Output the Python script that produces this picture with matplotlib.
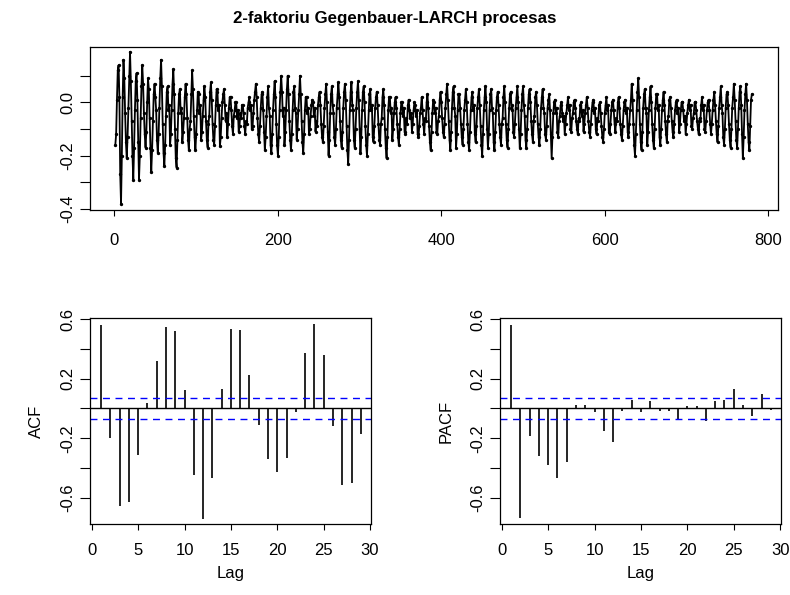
import matplotlib
matplotlib.use("Agg")
import matplotlib.pyplot as plt
import numpy as np

plt.rcParams['font.family'] = ['Liberation Sans', 'DejaVu Sans']

title = "2-faktoriu Gegenbauer-LARCH procesas"

# series values, read cycle by cycle off the picture (780 points)
series = [
    -0.16, -0.12, 0.01, 0.12, 0.14, 0.02, -0.27, -0.38,
    -0.20, 0.02, 0.16, 0.09, -0.04, -0.15, -0.21, -0.13,
    -0.02, 0.10, 0.19, 0.08, -0.07, -0.20, -0.29, -0.17,
    -0.03, 0.08, 0.11, 0.01, -0.15, -0.29, -0.20,
    -0.06, 0.06, 0.14, 0.07, -0.04, -0.12, -0.17, -0.11,
    0.00, 0.09, 0.05, -0.06, -0.17, -0.26, -0.18, -0.07,
    0.03, 0.07, 0.02, -0.03, -0.14, -0.19, -0.12, -0.02,
    0.09, 0.16, 0.06, -0.08, -0.19, -0.24, -0.16, -0.05,
    0.04, 0.06, -0.03, -0.01, -0.16, -0.12, -0.03,
    0.07, 0.125, 0.03, -0.10, -0.21, -0.245, -0.14, -0.04,
    0.03, 0.05, -0.04, -0.02, -0.15, -0.11, -0.06, 0.02,
    0.07, 0.03, -0.06, -0.14, -0.18, -0.10, -0.07, 0.03,
    0.12, 0.05, -0.05, -0.13, -0.18, -0.12, -0.03, 0.04,
    0.03, -0.04, -0.01, -0.14, -0.11, -0.05, 0.01,
    0.06, 0.02, -0.07, -0.14, -0.17, -0.08, -0.05, 0.04,
    0.075, 0.01, -0.08, -0.14, -0.16, -0.09, -0.01, 0.05,
    0.04, -0.03, -0.01, -0.165, -0.13, -0.06, 0.00, 0.03,
    0.05, -0.01, -0.07, -0.04, -0.13, -0.08, -0.02, 0.02,
    0.02, -0.03, -0.09, -0.12, -0.05, -0.03, 0.00,
    0.00, -0.06, -0.03, -0.11, -0.09, -0.04, -0.06, -0.01,
    -0.01, -0.04, -0.09, -0.12, -0.07, -0.08, -0.02, 0.00,
    0.02, -0.03, -0.01, -0.10, -0.09, -0.04, 0.01, 0.04,
    0.07, 0.02, -0.06, -0.12, -0.15, -0.09, -0.02, 0.03,
    0.04, -0.03, -0.11, -0.18, -0.13, -0.05, 0.02,
    0.06, -0.02, -0.05, -0.16, -0.19, -0.12, -0.03, 0.03,
    0.08, 0.02, -0.08, -0.16, -0.20, -0.13, -0.03, 0.04,
    0.10, 0.04, -0.05, -0.02, -0.16, -0.11, -0.03, 0.05,
    0.10, 0.03, -0.07, -0.14, -0.18, -0.12, -0.03, 0.04,
    0.06, -0.02, -0.04, -0.14, -0.10, -0.03, 0.03,
    0.10, 0.03, -0.07, -0.15, -0.19, -0.12, -0.03, 0.02,
    0.02, -0.04, -0.02, -0.12, -0.10, -0.05, -0.01, 0.01,
    0.00, -0.05, -0.02, -0.11, -0.07, -0.09, -0.01, 0.02,
    0.04, -0.01, -0.08, -0.13, -0.15, -0.09, -0.02, 0.03,
    0.07, 0.00, -0.11, -0.20, -0.14, -0.04, 0.03,
    0.06, -0.01, -0.04, -0.13, -0.16, -0.10, -0.02, 0.03,
    0.075, 0.02, -0.07, -0.14, -0.17, -0.11, -0.02, 0.04,
    0.07, 0.01, -0.09, -0.18, -0.23, -0.14, -0.03, 0.04,
    0.075, -0.01, -0.03, -0.14, -0.17, -0.10, -0.02, 0.04,
    0.08, 0.01, -0.10, -0.19, -0.13, -0.03, 0.04,
    0.06, 0.00, -0.09, -0.16, -0.20, -0.12, -0.03, 0.03,
    0.05, -0.03, -0.01, -0.13, -0.15, -0.09, -0.02, 0.02,
    0.04, -0.01, -0.08, -0.14, -0.16, -0.08, -0.06, 0.02,
    0.05, -0.01, -0.10, -0.17, -0.21, -0.13, -0.03, 0.02,
    0.02, -0.04, -0.02, -0.14, -0.10, -0.04, 0.00,
    0.02, -0.02, -0.08, -0.13, -0.16, -0.10, -0.04, 0.00,
    0.00, -0.05, -0.02, -0.11, -0.12, -0.06, -0.08, -0.01,
    0.01, -0.03, -0.06, -0.04, -0.11, -0.08, -0.03, 0.00,
    -0.01, -0.05, -0.03, -0.12, -0.13, -0.09, -0.04, -0.02,
    0.02, -0.03, -0.08, -0.12, -0.06, -0.07, 0.00,
    0.03, -0.02, -0.09, -0.15, -0.18, -0.11, -0.04, 0.01,
    0.00, -0.04, -0.02, -0.11, -0.12, -0.07, -0.05, 0.01,
    0.04, 0.00, -0.06, -0.11, -0.13, -0.08, -0.02, 0.03,
    0.07, 0.01, -0.07, -0.14, -0.18, -0.11, -0.02, 0.04,
    0.06, -0.02, -0.05, -0.17, -0.12, -0.03, 0.03,
    0.03, -0.02, -0.08, -0.13, -0.16, -0.10, -0.03, 0.01,
    0.05, 0.00, -0.08, -0.15, -0.18, -0.11, -0.03, 0.02,
    0.04, -0.03, -0.01, -0.12, -0.15, -0.09, -0.02, 0.02,
    0.05, -0.01, -0.09, -0.16, -0.20, -0.12, -0.03, 0.02,
    0.06, 0.00, -0.10, -0.17, -0.12, -0.03, 0.03,
    0.05, -0.02, -0.04, -0.15, -0.18, -0.11, -0.03, 0.02,
    0.04, -0.01, -0.08, -0.13, -0.16, -0.08, -0.06, 0.02,
    0.06, 0.00, -0.08, -0.14, -0.17, -0.10, -0.02, 0.03,
    0.04, -0.03, -0.01, -0.11, -0.13, -0.08, -0.02, 0.02,
    0.06, 0.00, -0.10, -0.17, -0.12, -0.03, 0.03,
    0.06, -0.01, -0.05, -0.14, -0.17, -0.10, -0.02, 0.03,
    0.05, 0.00, -0.07, -0.12, -0.15, -0.07, -0.05, 0.02,
    0.04, -0.01, -0.08, -0.13, -0.16, -0.10, -0.02, 0.02,
    0.05, -0.02, -0.04, -0.12, -0.14, -0.09, -0.02, 0.01,
    0.03, -0.03, -0.12, -0.21, -0.13, -0.04, 0.00,
    0.01, -0.04, -0.02, -0.11, -0.13, -0.07, -0.05, -0.01,
    0.00, -0.04, -0.07, -0.05, -0.12, -0.08, -0.04, -0.01,
    0.02, -0.03, -0.01, -0.10, -0.11, -0.06, -0.04, 0.00,
    0.01, -0.02, -0.07, -0.10, -0.12, -0.06, -0.07, -0.01,
    0.00, -0.05, -0.03, -0.11, -0.08, -0.04, -0.01,
    0.02, -0.02, -0.07, -0.11, -0.13, -0.08, -0.03, 0.00,
    0.01, -0.04, -0.02, -0.10, -0.12, -0.06, -0.07, -0.01,
    0.00, -0.04, -0.09, -0.13, -0.15, -0.10, -0.04, -0.01,
    0.02, -0.03, -0.01, -0.11, -0.12, -0.08, -0.03, 0.00,
    0.01, -0.03, -0.08, -0.11, -0.06, -0.07, 0.00,
    0.02, -0.02, -0.08, -0.12, -0.14, -0.09, -0.03, 0.00,
    0.01, -0.04, -0.02, -0.11, -0.13, -0.08, -0.03, 0.01,
    0.07, 0.01, -0.08, -0.16, -0.20, -0.12, -0.03, 0.04,
    0.09, 0.02, -0.08, -0.15, -0.18, -0.11, -0.02, 0.03,
    0.05, -0.02, -0.04, -0.16, -0.11, -0.03, 0.02,
    0.06, 0.00, -0.08, -0.14, -0.17, -0.10, -0.02, 0.03,
    0.03, -0.03, -0.01, -0.13, -0.16, -0.10, -0.03, 0.01,
    0.04, -0.01, -0.07, -0.12, -0.15, -0.07, -0.05, 0.01,
    0.02, -0.02, -0.07, -0.11, -0.13, -0.08, -0.03, 0.00,
    0.01, -0.04, -0.02, -0.11, -0.08, -0.03, 0.00,
    0.00, -0.03, -0.07, -0.05, -0.12, -0.08, -0.04, -0.01,
    0.01, -0.03, -0.01, -0.09, -0.10, -0.06, -0.04, 0.00,
    0.00, -0.03, -0.07, -0.10, -0.12, -0.06, -0.07, -0.01,
    0.02, -0.03, -0.01, -0.10, -0.11, -0.07, -0.03, 0.00,
    0.01, -0.03, -0.08, -0.12, -0.08, -0.03, 0.01,
    0.04, -0.01, -0.07, -0.12, -0.15, -0.09, -0.02, 0.02,
    0.06, -0.01, -0.04, -0.13, -0.16, -0.10, -0.02, 0.03,
    0.04, -0.01, -0.08, -0.14, -0.17, -0.10, -0.02, 0.02,
    0.07, 0.01, -0.07, -0.14, -0.17, -0.10, -0.02, 0.04,
    0.06, -0.01, -0.12, -0.21, -0.13, -0.03, 0.03,
    0.07, 0.01, -0.08, -0.15, -0.18, -0.09, 0.01, 0.03,
]

lags = list(range(1, 30))
acf_vals = [0.56, -0.20, -0.654, -0.625, -0.31, 0.036, 0.321, 0.548, 0.519, 0.121,
            -0.447, -0.739, -0.47, 0.133, 0.535, 0.526, 0.227, -0.108, -0.342, -0.429,
            -0.333, -0.025, 0.369, 0.564, 0.357, -0.121, -0.512, -0.501, -0.173]
pacf_vals = [0.563, -0.733, -0.188, -0.319, -0.378, -0.466, -0.357, 0.025, 0.025, -0.027,
             -0.149, -0.228, -0.018, 0.054, -0.025, 0.05, -0.018, -0.014, -0.07, 0.014,
             0.014, -0.086, 0.048, 0.054, 0.131, 0.025, -0.054, 0.095, -0.009]

n = len(series)
ci = 1.96 / np.sqrt(n)

fig = plt.figure(figsize=(7.9, 5.95), dpi=100)

def style(ax, ylen=7.5, xlen=4.5, xpad=9):
    for s in ax.spines.values():
        s.set_linewidth(0.9)
    ax.tick_params(axis='x', length=xlen, width=0.8, labelsize=12, pad=xpad)
    ax.tick_params(axis='y', length=ylen, width=0.8, labelsize=12, pad=3)
    for lab in ax.get_yticklabels():
        lab.set_rotation(90)
        lab.set_va('center')

# time series panel
ax0 = fig.add_axes([0.1139, 0.6471, 0.8709, 0.2744])
t = np.arange(1, n + 1)
ax0.plot(t, series, color='black', lw=1.3, marker='o', ms=1.4)
ax0.set_xlim(-30, 812)
ax0.set_ylim(-0.404, 0.209)
ax0.set_xticks([0, 200, 400, 600, 800])
ax0.set_yticks([-0.4, -0.3, -0.2, -0.1, 0.0, 0.1])
ax0.set_yticklabels(['-0.4', '', '-0.2', '', '0.0', ''])
style(ax0, xpad=12)
fig.text(0.5, 0.969, title, ha='center', va='center', fontsize=12.2, fontweight='bold')

def corr_panel(rect, vals, ylabel):
    ax = fig.add_axes(rect)
    ax.vlines(lags, 0, vals, color='black', lw=1.2)
    ax.axhline(0, color='black', lw=1.0)
    ax.axhline(ci, color='blue', lw=1.0, ls=(0, (5, 4)))
    ax.axhline(-ci, color='blue', lw=1.0, ls=(0, (5, 4)))
    ax.set_xlim(-0.2, 30.1)
    ax.set_ylim(-0.776, 0.607)
    ax.set_xticks([0, 5, 10, 15, 20, 25, 30])
    ax.set_yticks([-0.6, -0.4, -0.2, 0.0, 0.2, 0.4, 0.6])
    ax.set_yticklabels(['-0.6', '', '-0.2', '', '0.2', '', '0.6'])
    ax.set_xlabel('Lag', fontsize=12, labelpad=6)
    ax.set_ylabel(ylabel, fontsize=12, labelpad=12)
    style(ax, xpad=9)
    return ax

corr_panel([0.1139, 0.1193, 0.3557, 0.3462], acf_vals, 'ACF')
corr_panel([0.6329, 0.1193, 0.3557, 0.3462], pacf_vals, 'PACF')

fig.savefig('out.png', dpi=100)
